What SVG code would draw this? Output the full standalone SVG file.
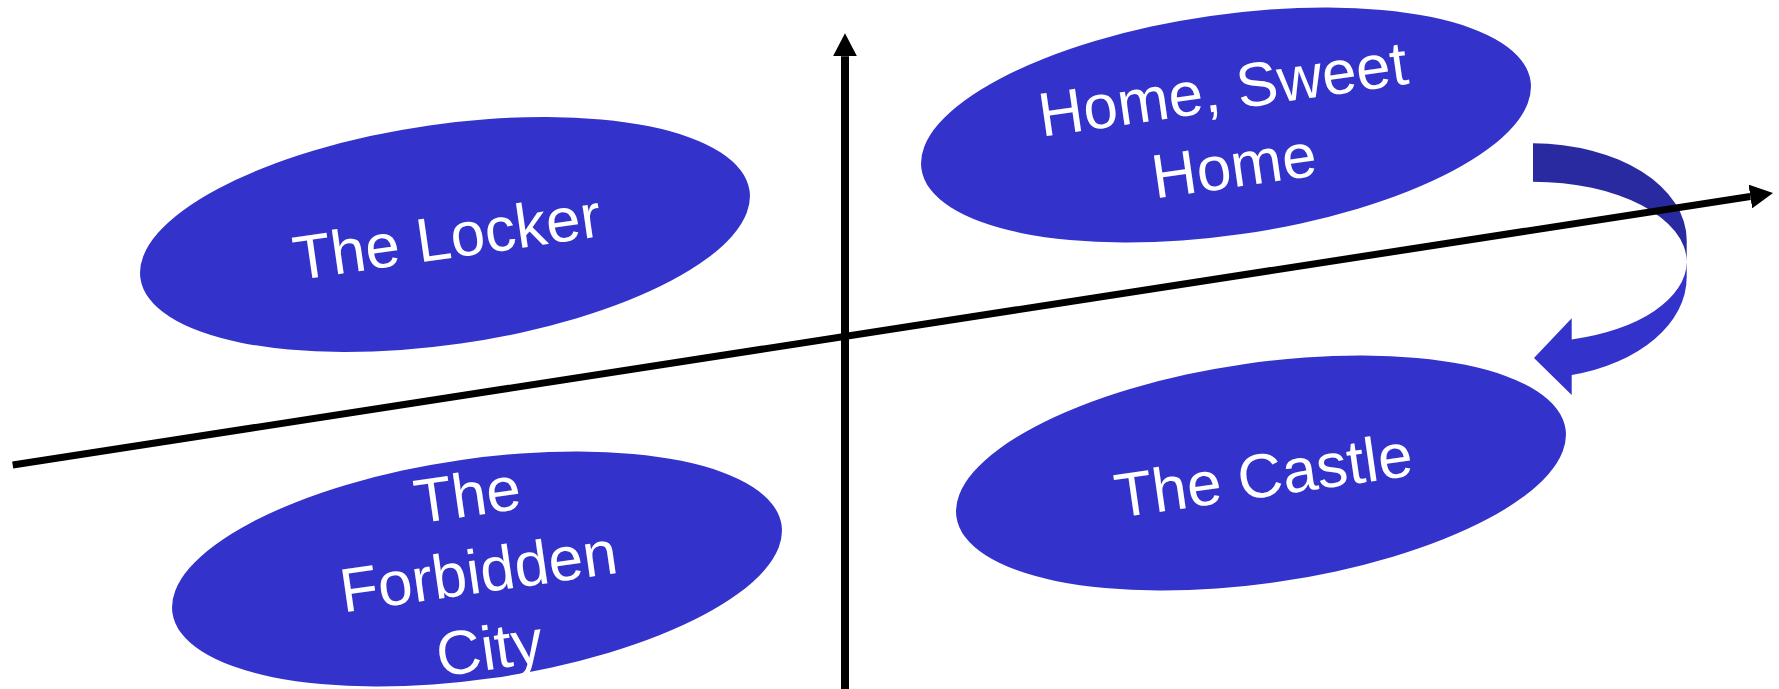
<svg xmlns="http://www.w3.org/2000/svg" width="1779" height="689" viewBox="0 0 1779 689">
  <style>
    .node ellipse { fill: #3333CC; }
    .node text { fill: #FFFFFF; font-family: "Liberation Sans", Arial, sans-serif; font-size: 62px; text-anchor: middle; }
    .axis { stroke: #000000; fill: none; }
  </style>
  <defs>
    <marker id="head" viewBox="0 0 23 24" refX="0" refY="12" markerWidth="23" markerHeight="24" markerUnits="userSpaceOnUse" orient="auto">
      <path d="M0,0 L23,12 L0,24 Z" fill="#000000"/>
    </marker>
  </defs>
  <rect width="1779" height="689" fill="#FFFFFF"/>
  <g id="node-locker" class="node" transform="rotate(-8.2 445 234.5)">
    <ellipse cx="445" cy="234.5" rx="307.7" ry="110.2"/>
    <text x="446.5" y="258.5">The Locker</text>
  </g>
  <g id="node-home" class="node" transform="rotate(-8.2 1226 125)">
    <ellipse cx="1226" cy="125" rx="307.7" ry="110.2"/>
    <text x="1228" y="110.3">Home, Sweet</text>
    <text x="1228" y="187.7">Home</text>
  </g>
  <g id="node-forbidden" class="node" transform="rotate(-8.2 477 569)">
    <ellipse cx="477" cy="569" rx="307.7" ry="110.2"/>
    <text x="478" y="515.6">The</text>
    <text x="478" y="593">Forbidden</text>
    <text x="478" y="670.4">City</text>
  </g>
  <g id="node-castle" class="node" transform="rotate(-8.2 1261 473)">
    <ellipse cx="1261" cy="473" rx="307.7" ry="110.2"/>
    <text x="1263" y="497">The Castle</text>
  </g>
  <g id="connectors">
    <path id="turn-back" d="M1533,143.3 A153.7,96.7 0 0 1 1686.7,240 L1686.7,262 A153.7,80.3 0 0 0 1533,181.7 Z" fill="#2A2AA0"/>
    <path id="turn-front" d="M1686.7,262 L1686.7,277 A153.7,101 0 0 1 1571.7,375 L1571.7,395 L1534,358 L1571.7,318.3 L1571.7,339.4 A153.7,80.3 0 0 0 1686.7,262 Z" fill="#3333CC"/>
    <line class="axis" x1="845" y1="692" x2="845" y2="56.3" stroke-width="8" marker-end="url(#head)"/>
    <line class="axis" x1="12.7" y1="465" x2="1750.3" y2="196.5" stroke-width="7" marker-end="url(#head)"/>
  </g>
</svg>
